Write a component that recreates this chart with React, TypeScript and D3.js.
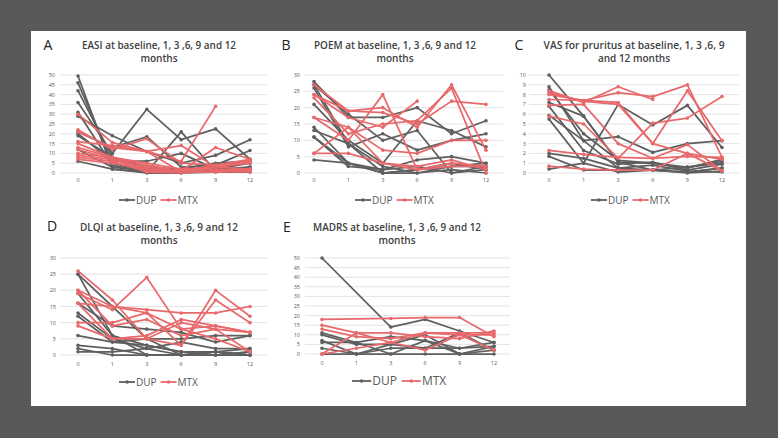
import React, { useEffect, useRef } from 'react';
import * as d3 from 'd3';

type Row = (number | null)[];

const CATEGORIES = ['0', '1', '3', '6', '9', '12'];
const SERIES = ['DUP', 'MTX'];

// A - EASI
const easiDup: Row[] = [
  [49.5, 2, 0.5, 1, 1, 2],
  [46, 5, 1, 0.5, 2, 3],
  [42, 8, 2, 1, 1, 1],
  [36, 10, 32.5, 17, 22.5, 7],
  [29, 19, 11, 5, 9, 17],
  [21, 13, 18.5, 3, 4, 11.5],
  [20, 6, 6, 10, 2, 5],
  [19, 8, 3, 2, 5, 6],
  [12, 3, 1, 0.5, 1, 1],
  [6, 2, 0, 0, 0.5, 0.5],
  [31, 4, 0.5, 21, 1, 3],
];
const easiMtx: Row[] = [
  [30, 15.5, 11, 0.5, 3, 6],
  [22, 12, 17.5, 5, 4, 7],
  [21, 13, 11, 14, 3, 2],
  [16, 14, 11, 6, 34, null],
  [15, 8, 4, 1, 13, 7],
  [13, 8, 5, 2, 3, 5],
  [12, 7, 3, 1, 2, 1],
  [10, 8, 2, 0.5, 1, 0.5],
  [9, 7, 1, 0.5, 0.5, 1],
  [8, 6, 0.5, 0, 1, 2],
  [7, 5, 2, 1, 4, 6],
];

// B - POEM
const poemDup: Row[] = [
  [28, 17, 17, 20, 12, 16],
  [27, 18, 10, 13, 0, 2],
  [26, 8, 12, 7, 10, 12],
  [21, 10, 3, 16, 13, 8],
  [14, 3, 1, 4, 5, 3],
  [13, 9, 0, 1, 3, 1],
  [11, 3, 0, 0, 2, 2],
  [11, 2, 1, 2, 0, 1],
  [4, 3, 0, 1, 2, 3],
  [27, 9, 2, 0, 1, 0],
];
const poemMtx: Row[] = [
  [27, 19, 20, 14, 27, 7],
  [24, 19, 18.5, 15, 22, 21],
  [23, 12, 15, 16, 26, 0],
  [17, 14, 7, 6, 10, 10],
  [17, 10, 24, 1, 3, 2],
  [6, 6, 3, 2, 4, 1],
  [24, 17, 14, 22, null, null],
  [6, 14, 3, 1, 2, 2],
];

// C - VAS for pruritus
const vasDup: Row[] = [
  [10, 5.8, 1.1, 0.3, 0.1, 0.5],
  [8.8, 3.3, 3.7, 2.1, 3.0, 3.3],
  [0.4, 1, 7, 4.9, 6.9, 2.6],
  [7.2, 5.8, 1.1, 1, 0.6, 1.2],
  [6.8, 2.3, 0.9, 1.1, 0.3, 0.9],
  [5.9, 3.3, 0.5, 0.3, 0.1, 0.5],
  [5.5, 1, 0.1, 0.3, 0.6, 1],
  [2, 1.5, 0.5, 0.8, 0.2, 0.1],
  [1.7, 0.3, 0.3, 0.3, 0, 0.2],
  [8.5, 4, 1.3, 1, 0.5, 1.4],
];
const vasMtx: Row[] = [
  [8.4, 7.2, 8.8, 7.5, null, null],
  [8, 7.4, 8.2, 7.8, 9, 1.6],
  [7.5, 7.4, 7.2, 3, 2, 1.4],
  [6.9, 7, 3, 1.5, 2.9, 0.2],
  [5.8, 5, 1.5, 5.1, 5.6, 7.8],
  [2.3, 1.9, 1.6, 1.5, 1.7, 1.6],
  [0.7, 0.4, 0.3, 0.3, 2, 0.2],
  [8.2, 7.3, 7.0, 3, 8.4, 3.3],
];

// D - DLQI
const dlqiDup: Row[] = [
  [25, 15, 5, 0, 0, 1],
  [19, 6, 3, 1, 1, 0],
  [16, 9, 8, 7, 4, 6],
  [13, 5, 2, 4, 2, 2],
  [12, 4, 5, 5, 6, 6],
  [6, 4, 3, 1, 0, 0],
  [3, 2, 0, 0, 1, 0],
  [2, 0, 0, 0, 0, 1],
  [1, 1, 2, 0, 1, 0],
  [25, 6, 0, 0, 1, 2],
];
const dlqiMtx: Row[] = [
  [26, 17, 5, 3, 17, 10],
  [20, 15, 13, 8, 9, 7],
  [19, 14, 24, 8, 5, 1],
  [16, 15, 14, 13, 13, 15],
  [10, 10, 13, 3, 20, 12],
  [9, 5, 6, 11, 9, 7],
  [20, 9, 11, 6, 8, 1],
  [16, 5, 5, 10, 8, 7],
];

// E - MADRS
const madrsDup: Row[] = [
  [50, null, 14, 18, 12, 6],
  [11, 6, 9, 7, 3, 6],
  [10, 5, 5, 10, 0, 4],
  [7, 0, 3, 3, 11, 2],
  [6, 6, 0, 0, 0, 0],
  [3, 0, 5, 3, 3, 4],
  [0, 0, 0, 7, 0, 2],
];
const madrsMtx: Row[] = [
  [18, null, 18.5, 19, 19, 9],
  [15, 11, 11, 9, 8, 12],
  [13, 9, 8, 11, 11, 11],
  [0, 3, 6, 11, 10, 10],
  [0, 11, 6, 2, 10, 2],
];

const panels = [
  {
    letter: 'A', title: ['EASI at baseline, 1, 3 ,6, 9 and 12', 'months'], dup: easiDup, mtx: easiMtx,
    yMax: 50, step: 5,
    letterX: 48, letterY: 50, titleX: 159, titleY: 49, titleW: 154,
    gridX0: 60, gridX1: 267, cat0: 78, cat12: 250, yTop: 75, yBot: 173, labX: 55,
    xLabY: 182, legY: 200, legX: 119, legFont: 10,
  },
  {
    letter: 'B', title: ['POEM at baseline, 1, 3 ,6, 9 and 12', 'months'], dup: poemDup, mtx: poemMtx,
    yMax: 30, step: 5,
    letterX: 286, letterY: 50, titleX: 395, titleY: 49, titleW: 162,
    gridX0: 304, gridX1: 503, cat0: 314, cat12: 486, yTop: 75, yBot: 173, labX: 300,
    xLabY: 182, legY: 200, legX: 355, legFont: 10,
  },
  {
    letter: 'C', title: ['VAS for pruritus at baseline, 1, 3 ,6, 9', 'and 12 months'], dup: vasDup, mtx: vasMtx,
    yMax: 10, step: 1,
    letterX: 519, letterY: 50, titleX: 634, titleY: 49, titleW: 181,
    gridX0: 529, gridX1: 739, cat0: 549, cat12: 722, yTop: 75, yBot: 173, labX: 526,
    xLabY: 182, legY: 200, legX: 591, legFont: 10,
  },
  {
    letter: 'D', title: ['DLQI at baseline, 1, 3 ,6, 9 and 12', 'months'], dup: dlqiDup, mtx: dlqiMtx,
    yMax: 30, step: 5,
    letterX: 52, letterY: 231, titleX: 159, titleY: 231, titleW: 158,
    gridX0: 60, gridX1: 267, cat0: 78, cat12: 250, yTop: 258, yBot: 355, labX: 56,
    xLabY: 366, legY: 382, legX: 119, legFont: 10,
  },
  {
    letter: 'E', title: ['MADRS at baseline, 1, 3 ,6, 9 and 12', 'months'], dup: madrsDup, mtx: madrsMtx,
    yMax: 50, step: 5,
    letterX: 287, letterY: 232, titleX: 397, titleY: 231, titleW: 168,
    gridX0: 305, gridX1: 510, cat0: 322, cat12: 494, yTop: 258, yBot: 354, labX: 300,
    xLabY: 365, legY: 381, legX: 352, legFont: 12,
  },
];

const COLORS: Record<string, string> = { DUP: '#5f5f5f', MTX: '#e8696b' };
const FONT = "'Open Sans', 'Noto Sans', sans-serif";

const App: React.FC = () => {
  const svgRef = useRef<SVGSVGElement>(null);

  useEffect(() => {
    if (!svgRef.current) return;
    const svg = d3.select(svgRef.current);
    svg.selectAll('*').remove();

    svg.append('rect').attr('width', 778).attr('height', 438).attr('fill', '#595959');
    svg.append('rect').attr('x', 31).attr('y', 31).attr('width', 715).attr('height', 375).attr('fill', '#ffffff');

    panels.forEach(p => {
      const g = svg.append('g');
      const x = d3.scalePoint<string>().domain(CATEGORIES).range([p.cat0, p.cat12]);
      const y = d3.scaleLinear().domain([0, p.yMax]).range([p.yBot, p.yTop]);
      const ticks = d3.range(0, p.yMax + p.step / 2, p.step);

      // gridlines
      g.selectAll('line.grid').data(ticks).join('line')
        .attr('x1', p.gridX0).attr('x2', p.gridX1)
        .attr('y1', d => y(d)).attr('y2', d => y(d))
        .attr('stroke', '#d9d9d9').attr('stroke-width', 0.75);

      // y labels
      g.selectAll('text.ylab').data(ticks).join('text')
        .attr('x', p.labX).attr('y', d => y(d) + 2)
        .attr('text-anchor', 'end')
        .style('font-family', FONT).style('font-size', '5.5px').style('fill', '#595959')
        .text(d => d);

      // x labels
      g.selectAll('text.xlab').data(CATEGORIES).join('text')
        .attr('x', d => x(d)!).attr('y', p.xLabY)
        .attr('text-anchor', 'middle')
        .style('font-family', FONT).style('font-size', '5.5px').style('fill', '#595959')
        .text(d => d);

      const line = d3.line<{ c: string; v: number }>()
        .x(d => x(d.c)!)
        .y(d => y(d.v));

      const drawSeries = (rows: Row[], color: string) => {
        rows.forEach(r => {
          const pts = r
            .map((v, i) => ({ c: CATEGORIES[i], v }))
            .filter(d => d.v !== null) as { c: string; v: number }[];
          g.append('path')
            .attr('d', line(pts))
            .attr('fill', 'none')
            .attr('stroke', color)
            .attr('stroke-width', 1.75)
            .attr('stroke-linejoin', 'round');
          g.selectAll(null).data(pts).join('circle')
            .attr('cx', d => x(d.c)!).attr('cy', d => y(d.v))
            .attr('r', 1.8).attr('fill', color);
        });
      };
      drawSeries(p.dup, COLORS.DUP);
      drawSeries(p.mtx, COLORS.MTX);

      // panel letter
      g.append('text')
        .attr('x', p.letterX).attr('y', p.letterY)
        .attr('text-anchor', 'middle')
        .style('font-family', FONT).style('font-size', '14px').style('fill', '#222')
        .text(p.letter);

      // title
      g.append('text')
        .attr('x', p.titleX).attr('y', p.titleY)
        .attr('text-anchor', 'middle')
        .attr('textLength', p.titleW).attr('lengthAdjust', 'spacingAndGlyphs')
        .style('font-family', FONT).style('font-size', '10px').style('font-weight', 600).style('fill', '#404040')
        .text(p.title[0]);
      g.append('text')
        .attr('x', p.titleX).attr('y', p.titleY + 13)
        .attr('text-anchor', 'middle')
        .style('font-family', FONT).style('font-size', '10px').style('font-weight', 600).style('fill', '#404040')
        .text(p.title[1]);

      // legend
      const fs = p.legFont;
      const segW = fs * 1.6;
      let lx = p.legX;
      SERIES.forEach(s => {
        const lg = g.append('g');
        lg.append('line')
          .attr('x1', lx).attr('x2', lx + segW)
          .attr('y1', p.legY).attr('y2', p.legY)
          .attr('stroke', COLORS[s]).attr('stroke-width', 1.8);
        lg.append('circle').attr('cx', lx + segW / 2).attr('cy', p.legY).attr('r', 1.8).attr('fill', COLORS[s]);
        const t = lg.append('text')
          .attr('x', lx + segW + 1).attr('y', p.legY + fs * 0.36)
          .style('font-family', FONT).style('font-size', `${fs}px`).style('fill', '#595959')
          .text(s);
        const w = (t.node() as SVGTextElement).getComputedTextLength();
        lx += segW + 1 + w + fs * 0.4;
      });
    });
  }, []);

  return (
    <div style={{ position: 'absolute', left: 0, top: 0 }}>
      <svg ref={svgRef} width={778} height={438} viewBox="0 0 778 438" style={{ display: 'block' }} />
    </div>
  );
};

export default App;
